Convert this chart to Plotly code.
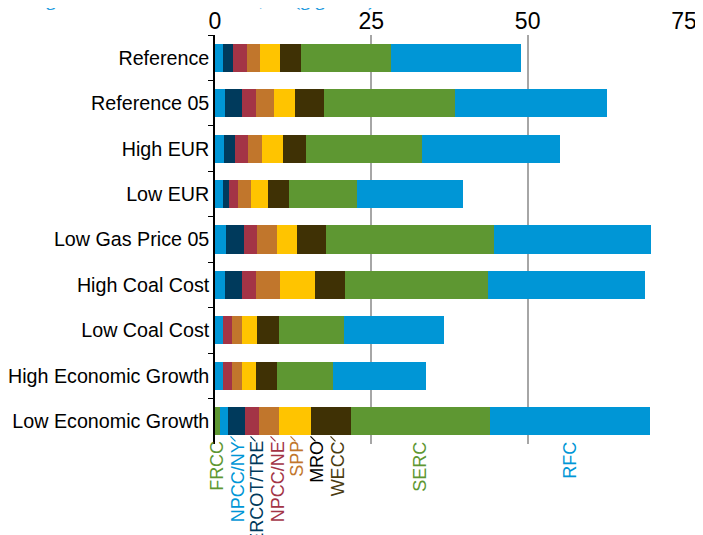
import plotly.graph_objects as go

# scenarios, top to bottom
scenarios = ["Reference", "Reference 05", "High EUR", "Low EUR", "Low Gas Price 05",
             "High Coal Cost", "Low Coal Cost", "High Economic Growth", "Low Economic Growth"]

# regions in stacking order
regions = ["FRCC", "NPCC/NY", "ERCOT/TRE", "NPCC/NE", "SPP", "MRO", "WECC", "SERC", "RFC"]

frcc = [0, 0, 0, 0, 0, 0, 0, 0, 0.8]
npcc_ny = [1.2, 1.6, 1.45, 1.3, 1.75, 1.6, 1.3, 1.3, 1.3]
ercot = [1.65, 2.7, 1.75, 0.95, 2.9, 2.7, 0, 0, 2.7]
npcc_ne = [2.25, 2.25, 2.1, 1.45, 2.1, 2.25, 1.45, 1.45, 2.25]
spp = [2.1, 2.9, 2.25, 2.1, 3.2, 3.85, 1.6, 1.6, 3.2]
mro = [3.2, 3.35, 3.35, 2.7, 3.2, 5.6, 2.4, 2.25, 5.1]
wecc = [3.35, 4.65, 3.65, 3.35, 4.65, 4.8, 3.5, 3.35, 6.4]
serc = [14.4, 21.0, 18.5, 10.85, 26.8, 22.8, 10.4, 8.95, 22.2]
rfc = [20.8, 24.3, 22.1, 16.9, 25.1, 25.1, 16.0, 14.85, 25.6]

series = [frcc, npcc_ny, ercot, npcc_ne, spp, mro, wecc, serc, rfc]
bar_colors = ["#5e9732", "#0096d6", "#003a5c", "#a33446", "#c1762c",
              "#ffc400", "#3f3105", "#5e9732", "#0096d6"]
label_colors = ["#5e9732", "#0096d6", "#003a5c", "#a33446", "#c1762c",
                "#000000", "#4a3b10", "#5e9732", "#0096d6"]

fig = go.Figure()
for name, vals, col in zip(regions, series, bar_colors):
    fig.add_trace(go.Bar(
        y=scenarios, x=vals, name=name, orientation="h",
        marker=dict(color=col, line=dict(width=0)),
    ))

# margins (page body adds ~8px offset)
m_l, m_r, m_t, m_b = 207, 27, 27, 99

# region labels under the last bar, pushed apart where segments are narrow
x_max = 75
plot_w = 703 - m_l - m_r
plot_h = 535 - m_t - m_b
px = x_max / plot_w  # data units per pixel
min_gap = 20 * px
last = [s[-1] for s in series]
left = 0
label_x = []
prev = None
for v in last:
    c = left + v / 2
    pos = c if prev is None else max(c, prev + min_gap)
    label_x.append(pos)
    prev = pos
    left += v

left = 0
bar_bottom = len(scenarios) - 1 + 0.31
for name, v, lx, col in zip(regions, last, label_x, label_colors):
    c = left + v / 2
    left += v
    fig.add_annotation(
        x=lx, y=bar_bottom, xref="x", yref="y",
        text=name, textangle=-90, showarrow=False,
        xanchor="center", yanchor="top", yshift=-5,
        font=dict(size=18, color=col), borderpad=0,
    )
    if lx - c > 0.05:
        # short leader stroke
        fig.add_shape(
            type="line", xref="x", yref="y", ysizemode="pixel", yanchor=bar_bottom,
            x0=lx - 7 * px, x1=lx - 2 * px, y0=-1, y1=-6,
            line=dict(color=col, width=1.2),
        )

# title, mostly cut off at the top of the picture
fig.add_annotation(
    x=(27 - 8 - m_l) / plot_w, y=1 + (m_t - 5) / plot_h, xref="paper", yref="paper",
    xanchor="left", yanchor="bottom",
    text="<b>Figure 10. Cumulative totals, all (gigatons)</b>",
    showarrow=False, font=dict(family="Liberation Serif", size=19, color="#1f9bde"),
)

fig.update_layout(
    width=703, height=535,
    barmode="stack", bargap=0.38,
    showlegend=False,
    plot_bgcolor="white", paper_bgcolor="white",
    margin=dict(l=m_l, r=m_r, t=m_t, b=m_b, autoexpand=False),
    font=dict(family="Liberation Sans", color="black"),
    xaxis=dict(
        side="top", range=[0, x_max], tickvals=[0, 25, 50, 75],
        showgrid=True, gridcolor="#a6a6a6", gridwidth=1.5,
        zeroline=False, showline=False, ticks="", automargin=False,
        tickfont=dict(size=23),
    ),
    yaxis=dict(
        autorange="reversed", showline=True, linecolor="black", linewidth=1.5,
        ticks="outside", tickson="boundaries", ticklen=5, tickcolor="black",
        showgrid=False, tickfont=dict(size=19.7), automargin=False,
    ),
)

fig.write_html("out.html")
